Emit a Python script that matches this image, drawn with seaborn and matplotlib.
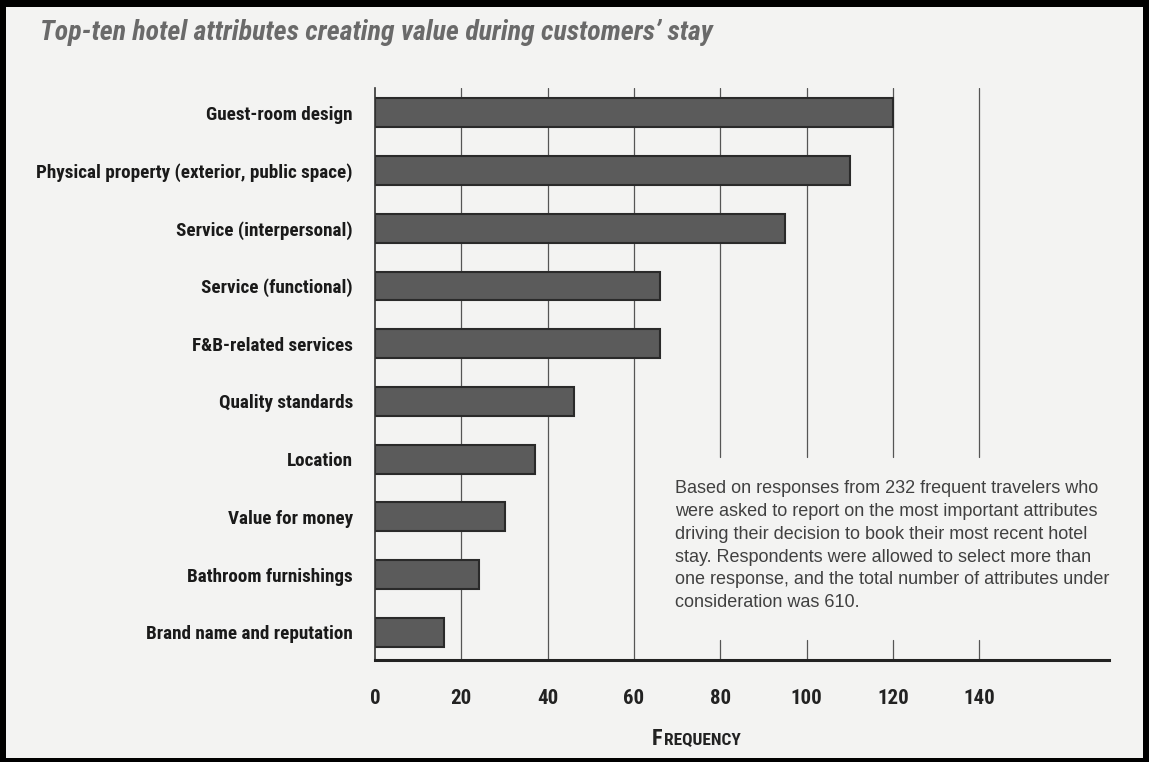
import matplotlib
matplotlib.use("Agg")
import matplotlib.pyplot as plt
import matplotlib.font_manager as fm
import seaborn as sns
import pandas as pd
from matplotlib.patches import Rectangle
from matplotlib.offsetbox import TextArea, HPacker, AnnotationBbox

# data (sums to 610 attributes)
attributes = ["Guest-room design", "Physical property (exterior, public space)",
              "Service (interpersonal)", "Service (functional)", "F&B-related services",
              "Quality standards", "Location", "Value for money",
              "Bathroom furnishings", "Brand name and reputation"]
frequency = [120, 110, 95, 66, 66, 46, 37, 30, 24, 16]
xticks = [0, 20, 40, 60, 80, 100, 120, 140]

note = ("Based on responses from 232 frequent travelers who\n"
        "were asked to report on the most important attributes\n"
        "driving their decision to book their most recent hotel\n"
        "stay. Respondents were allowed to select more than\n"
        "one response, and the total number of attributes under\n"
        "consideration was 610.")

df = pd.DataFrame({"attribute": attributes, "frequency": frequency})

sns.set_style("white")


def narrow_font(italic=False):
    # look for a condensed / narrow bold face among installed fonts
    prefer = ["Liberation Sans Narrow", "Roboto Condensed", "Open Sans Condensed",
              "Noto Sans", "DejaVu Sans", "Roboto", "Open Sans"]
    found = {}
    for f in fm.fontManager.ttflist:
        narrow = ("condensed" in str(f.stretch) or "Narrow" in f.name
                  or "Condensed" in f.name or "Narrow" in f.fname or "Condensed" in f.fname)
        if not narrow:
            continue
        w = f.weight if isinstance(f.weight, int) else fm.weight_dict.get(f.weight, 400)
        if w < 600 or w > 800:
            continue
        if (f.style != "normal") != italic:
            continue
        found.setdefault(f.name, f.fname)
    for p in prefer:
        if p in found:
            return lambda size: fm.FontProperties(fname=found[p], size=size)
    if found:
        k = sorted(found)[0]
        return lambda size: fm.FontProperties(fname=found[k], size=size)
    style = "italic" if italic else "normal"
    return lambda size: fm.FontProperties(family=["Liberation Sans", "DejaVu Sans"],
                                          weight="bold", style=style, size=size * 0.85)


bold = narrow_font()
bold_it = narrow_font(italic=True)

W, H = 1149, 762
fig = plt.figure(figsize=(W / 100, H / 100), dpi=100)
fig.patch.set_facecolor("black")
# light paper area inside the black frame
fig.add_artist(Rectangle((6 / W, 4 / H), (1143 - 6) / W, (755 - 4) / H,
                         transform=fig.transFigure, facecolor="#f3f3f2",
                         edgecolor="none", zorder=0))

ax = fig.add_axes([375 / W, 1 - 660 / H, (1109 - 375) / W, (660 - 88) / H])
ax.set_facecolor("none")

sns.barplot(data=df, x="frequency", y="attribute", orient="h", ax=ax,
            color="#5b5b5b", width=0.5, edgecolor="#2a2a2a", linewidth=1.5,
            saturation=1)

ax.set_xlim(0, 170)
ax.set_ylim(9.48, -0.43)

# vertical grid lines, the right-hand ones break around the note
for v in xticks[1:]:
    if v <= 60:
        ax.plot([v, v], [9.48, -0.43], color="#555555", lw=0.9, zorder=0)
    else:
        ax.plot([v, v], [9.48, 9.13], color="#555555", lw=0.9, zorder=0)
        ax.plot([v, v], [5.96, -0.43], color="#555555", lw=0.9, zorder=0)

for s in ["top", "right"]:
    ax.spines[s].set_visible(False)
ax.spines["left"].set_color("#333333")
ax.spines["left"].set_linewidth(1.2)
ax.spines["bottom"].set_color("#222222")
ax.spines["bottom"].set_linewidth(2.2)

ax.set_xticks(xticks)
ax.set_xticklabels([str(t) for t in xticks])
for lab in ax.get_xticklabels():
    lab.set_fontproperties(bold(15))
    lab.set_color("#222222")
ax.tick_params(axis="x", length=0, pad=21)
ax.tick_params(axis="y", length=0, pad=16)
for lab in ax.get_yticklabels():
    lab.set_fontproperties(bold(13.75))
    lab.set_color("#1a1a1a")
ax.set_xlabel("")
ax.set_ylabel("")

# small-caps axis title
big = TextArea("F", textprops=dict(fontproperties=bold(16), color="#222222"))
small = TextArea("REQUENCY", textprops=dict(fontproperties=bold(12.5), color="#222222"))
pack = HPacker(children=[big, small], align="baseline", pad=0, sep=1)
ab = AnnotationBbox(pack, (696 / W, 1 - 739 / H), xycoords="figure fraction",
                    frameon=False, box_alignment=(0.5, 0.5))
fig.add_artist(ab)

fig.text(40 / W, 1 - 33 / H, "Top-ten hotel attributes creating value during customers\u2019 stay",
         fontproperties=bold_it(20.1), color="#6a6a6a", va="center", ha="left")

fig.text(675 / W, 1 - 480 / H, note, family=["Liberation Sans", "DejaVu Sans"],
         fontsize=13, color="#404040", va="top", ha="left", linespacing=1.45)

fig.savefig("out.png", dpi=100, facecolor=fig.get_facecolor())
